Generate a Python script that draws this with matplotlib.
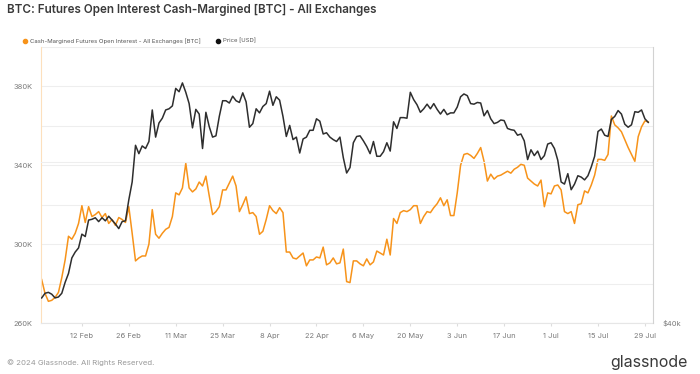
"""Glassnode-style chart: cash-margined futures open interest [BTC] vs BTC price."""
import matplotlib

matplotlib.use("Agg")
import matplotlib.pyplot as plt
import pandas as pd
from matplotlib.lines import Line2D
from matplotlib.ticker import FixedLocator, FuncFormatter, NullLocator

plt.rcParams["font.family"] = ["Inter", "DejaVu Sans"]

# daily data, 2024-01-31 .. 2024-07-30
START, END = "2024-01-31", "2024-07-30"

# cash-margined futures open interest, thousand BTC
oi_k = [
    282, 275, 271, 271.5, 273, 275.5, 283, 292, 304, 302.5,
    305.5, 310.5, 319.5, 311, 319, 314, 315, 316.5, 313.5, 315.5,
    310.5, 312.5, 309.5, 313.5, 312.5, 311, 319, 305.5, 291.5, 293,
    294, 294, 300, 317.5, 305, 303, 305.5, 307.5, 308.5, 314,
    326, 325, 328.5, 341, 328.5, 326.5, 328, 331.5, 329.5, 334.5,
    324.5, 315, 316.5, 319, 327.5, 327.5, 331, 334.5, 329.5, 316.5,
    320, 324, 315.5, 316, 314, 305, 306.5, 312.5, 319.5, 317,
    315.5, 318.5, 316, 296, 296, 293, 292.5, 294, 295.5, 289,
    292, 292, 293.5, 293, 298.5, 289.5, 290.5, 293, 290, 290.5,
    297.5, 281, 280.5, 291.5, 291.5, 290, 289, 292.5, 289.5, 291,
    296.5, 295.5, 294.5, 302.5, 294.5, 313, 310.5, 316, 317, 316.5,
    317.5, 319.5, 319.5, 310.5, 314, 316.5, 316, 318.5, 320.5, 323.5,
    319.5, 322.5, 314.5, 314.5, 326, 340, 345.5, 346, 345, 343.5,
    346, 349, 342, 332, 335.5, 333, 334.5, 335, 336, 337,
    336, 338, 339, 340.5, 340, 333.5, 332, 330.5, 329.5, 332.5,
    319, 326, 325.5, 329.5, 330, 327.5, 316.5, 315.5, 316.5, 310.5,
    320, 320.5, 327, 326, 330, 335, 343, 343, 342.5, 345.5,
    365, 360.5, 359, 357, 353, 349, 345.5, 342, 354.5, 359.5,
    362.5, 362,
]

# BTC price, thousand USD
price_k = [
    42.6, 43.1, 43.2, 43.0, 42.6, 42.7, 43.1, 44.3, 45.3, 47.1,
    47.8, 48.3, 50.0, 49.7, 51.8, 51.9, 52.1, 51.6, 52.1, 51.7,
    52.3, 51.8, 51.3, 50.7, 51.6, 51.7, 54.5, 57.0, 62.5, 61.2,
    62.4, 62.0, 63.1, 68.3, 63.8, 66.1, 66.9, 68.3, 68.5, 69.0,
    72.1, 71.5, 73.1, 71.4, 69.4, 65.3, 68.4, 67.6, 62.0, 67.9,
    65.5, 63.8, 64.0, 67.2, 69.9, 69.9, 69.5, 70.7, 69.9, 69.6,
    71.3, 69.7, 65.4, 66.0, 68.5, 67.8, 68.9, 69.4, 71.6, 69.1,
    70.6, 70.0, 67.2, 63.9, 65.7, 63.4, 63.8, 61.3, 63.5, 63.8,
    64.9, 64.9, 66.8, 66.4, 64.3, 64.5, 63.8, 63.4, 63.1, 63.8,
    60.6, 58.3, 59.1, 62.9, 63.9, 64.0, 63.2, 62.3, 61.2, 63.1,
    60.8, 60.8, 61.5, 62.9, 61.6, 66.3, 65.2, 67.0, 67.0, 66.9,
    71.4, 70.1, 69.2, 67.9, 68.5, 69.3, 68.5, 69.4, 68.4, 67.6,
    68.4, 67.5, 67.8, 67.8, 68.8, 70.6, 71.1, 70.8, 69.4, 69.3,
    69.6, 69.5, 67.3, 68.2, 66.8, 66.0, 66.2, 66.6, 66.5, 65.2,
    65.0, 64.9, 64.1, 64.3, 63.2, 60.3, 61.8, 60.9, 61.6, 60.3,
    60.9, 62.7, 62.9, 62.0, 60.2, 57.0, 56.7, 58.2, 55.9, 56.7,
    57.9, 57.7, 57.3, 57.9, 59.2, 60.8, 64.7, 65.1, 64.1, 63.9,
    66.7, 67.2, 68.2, 67.6, 65.9, 65.4, 65.8, 68.0, 67.9, 68.3,
    66.8, 66.2,
]

tick_dates = ["2024-02-12", "2024-02-26", "2024-03-11", "2024-03-25",
              "2024-04-08", "2024-04-22", "2024-05-06", "2024-05-20",
              "2024-06-03", "2024-06-17", "2024-07-01", "2024-07-15",
              "2024-07-29"]
oi_labels_k = [260, 300, 340, 380]
oi_grid_k = [280, 320, 360, 400]
price_lim_k = (40, 80)
price_grid_k = [40, 60]

ORANGE = "#f7931a"
DARK = "#2e2e2e"
GRID = "#eeeeee"
TXT = "#7a7a7a"

W, H = 700, 374
dates = pd.date_range(START, END, freq="D")

fig = plt.figure(figsize=(W / 100, H / 100), dpi=100)
ax = fig.add_axes([40.7 / W, (H - 323) / H, (653 - 40.7) / W, 276 / H])

ax.plot(dates, [v * 1000 for v in oi_k], color=ORANGE, lw=1.1)
ax.set_ylim(260000, 400000)
ax.yaxis.set_major_locator(FixedLocator([v * 1000 for v in oi_labels_k]))
ax.yaxis.set_minor_locator(FixedLocator([v * 1000 for v in oi_grid_k]))
ax.yaxis.set_major_formatter(FuncFormatter(lambda v, p: f"{v / 1000:.0f}K"))
ax.grid(axis="y", which="both", color=GRID, lw=0.8)
ax.set_axisbelow(True)
ax.tick_params(axis="y", which="both", length=0, labelsize=5.4,
               labelcolor=TXT, pad=6)

ax.set_xlim(pd.Timestamp(START) - pd.Timedelta(hours=7),
            pd.Timestamp(END) + pd.Timedelta(hours=34))
ax.set_xticks(pd.to_datetime(tick_dates))
ax.xaxis.set_major_formatter(FuncFormatter(
    lambda v, p: f"{matplotlib.dates.num2date(v).day} "
                 f"{matplotlib.dates.num2date(v).strftime('%b')}"))
ax.tick_params(axis="x", length=2.5, color="#dddddd", labelsize=5.4,
               labelcolor=TXT, pad=5)

for s in ("top", "right"):
    ax.spines[s].set_visible(False)
ax.spines["left"].set_color("#fde0bd")
ax.spines["bottom"].set_color("#e6e6e6")

ax2 = ax.twinx()
ax2.plot(dates, [v * 1000 for v in price_k], color=DARK, lw=1.1)
ax2.set_yscale("log")
ax2.set_ylim(price_lim_k[0] * 1000, price_lim_k[1] * 1000)
ax2.yaxis.set_major_locator(FixedLocator([v * 1000 for v in price_grid_k]))
ax2.yaxis.set_minor_locator(NullLocator())
ax2.yaxis.set_major_formatter(FuncFormatter(
    lambda v, p: "$40k" if abs(v - 40000) < 1 else ""))
ax2.grid(axis="y", color=GRID, lw=0.8)
ax2.tick_params(axis="y", length=0, labelsize=5.4, labelcolor=TXT, pad=7)
for s in ("top", "left", "bottom"):
    ax2.spines[s].set_visible(False)
ax2.spines["right"].set_color("#d2d2d2")

# title, legend, footer
fig.text(7 / W, 1 - 10 / H, "BTC: Futures Open Interest Cash-Margined [BTC] - All Exchanges",
         fontsize=8.4, fontweight="semibold", color="#3a3a3a", va="center")

legend_items = [(25, ORANGE, "Cash-Margined Futures Open Interest - All Exchanges [BTC]"),
                (218, "#111111", "Price [USD]")]
for x, c, label in legend_items:
    fig.add_artist(Line2D([x / W], [1 - 41 / H], marker="o", ms=3, color=c,
                          transform=fig.transFigure))
    fig.text((x + 5) / W, 1 - 41 / H, label, fontsize=4.3, color="#555555",
             va="center")

fig.text(7 / W, 1 - 363 / H, "© 2024 Glassnode. All Rights Reserved.",
         fontsize=5.6, color="#9a9a9a", va="center")
fig.text(688 / W, 1 - 362 / H, "glassnode", fontsize=11.5, color="#3a3a3a",
         ha="right", va="center")

fig.savefig("out.png", dpi=100)
